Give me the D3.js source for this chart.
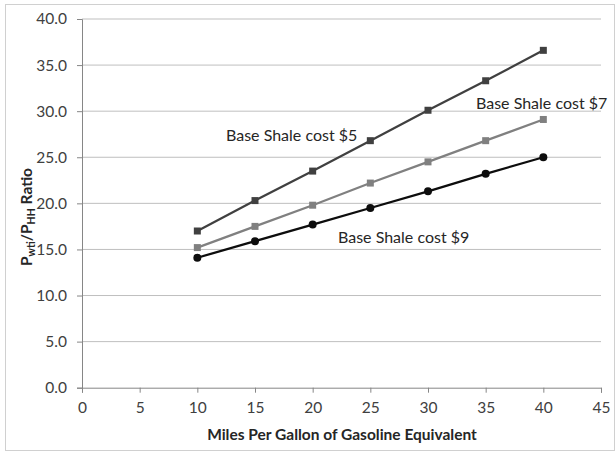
<!DOCTYPE html>
<html>
<head>
<meta charset="utf-8">
<script src="https://cdn.jsdelivr.net/npm/d3@7"></script>
<style>
  html, body { margin: 0; padding: 0; background: #fff; }
  svg { display: block; }
  text { font-family: Lato, "Open Sans", sans-serif; }
</style>
</head>
<body>
<svg id="chart" width="616" height="455"></svg>
<script>
// Fuel economy (mpg gasoline equivalent) on the x axis
const mpg = [10, 15, 20, 25, 30, 35, 40];

// Pwti / PHH price ratio for each base shale cost
const cost5 = [17.0, 20.3, 23.5, 26.8, 30.1, 33.3, 36.6];
const cost7 = [15.2, 17.5, 19.8, 22.2, 24.5, 26.8, 29.1];
const cost9 = [14.1, 15.9, 17.7, 19.5, 21.3, 23.2, 25.0];

const xTicks = [0, 5, 10, 15, 20, 25, 30, 35, 40, 45];
const yTicks = [0, 5, 10, 15, 20, 25, 30, 35, 40];

const seriesNames = ["Base Shale cost $5", "Base Shale cost $7", "Base Shale cost $9"];

const svg = d3.select("#chart");
const plot = { left: 82, right: 601, top: 19, bottom: 387.7 };

// outer chart frame
svg.append("rect")
  .attr("x", 5.5).attr("y", 4.5)
  .attr("width", 609).attr("height", 446)
  .attr("fill", "#fff").attr("stroke", "#d0d0d0").attr("stroke-width", 1);

const x = d3.scaleLinear().domain([0, 45]).range([plot.left, plot.right]);
const y = d3.scaleLinear().domain([0, 40]).range([plot.bottom, plot.top]);

// horizontal gridlines
svg.append("g")
  .selectAll("line")
  .data(yTicks.filter(v => v > 0))
  .join("line")
  .attr("x1", plot.left).attr("x2", plot.right)
  .attr("y1", d => y(d)).attr("y2", d => y(d))
  .attr("stroke", "#bfbfbf").attr("stroke-width", 1);

// y axis
const yAxis = svg.append("g")
  .attr("transform", `translate(${plot.left},0)`)
  .call(d3.axisLeft(y).tickValues(yTicks).tickFormat(d3.format(".1f")).tickSize(5).tickPadding(10));
yAxis.select(".domain").attr("stroke", "#868686");
yAxis.selectAll(".tick line").attr("stroke", "#868686");
yAxis.selectAll(".tick text")
  .attr("fill", "#404040").attr("font-size", 15.5)
  .style("font-family", "Lato, sans-serif");

// x axis
const xAxis = svg.append("g")
  .attr("transform", `translate(0,${plot.bottom})`)
  .call(d3.axisBottom(x).tickValues(xTicks).tickSize(5).tickPadding(9));
xAxis.select(".domain").attr("stroke", "#868686");
xAxis.selectAll(".tick line").attr("stroke", "#868686");
xAxis.selectAll(".tick text")
  .attr("fill", "#404040").attr("font-size", 15.5)
  .style("font-family", "Lato, sans-serif");

// axis titles
svg.append("text")
  .attr("x", 342).attr("y", 440)
  .attr("text-anchor", "middle")
  .attr("font-size", 15.5).attr("font-weight", "bold").attr("fill", "#262626")
  .text("Miles Per Gallon of Gasoline Equivalent");

const yTitle = svg.append("text")
  .attr("transform", "translate(32,217) rotate(-90)")
  .attr("text-anchor", "middle")
  .attr("font-size", 15.5).attr("font-weight", "bold").attr("fill", "#262626");
yTitle.append("tspan").text("P");
yTitle.append("tspan").attr("font-size", 10.5).attr("dy", 3).text("wti");
yTitle.append("tspan").attr("dy", -3).text("/P");
yTitle.append("tspan").attr("font-size", 10.5).attr("dy", 3).text("HH");
yTitle.append("tspan").attr("dy", -3).text(" Ratio");

const line = d3.line().x((d, i) => x(mpg[i])).y(d => y(d));

const series = [
  { values: cost5, color: "#404040", marker: "square" },
  { values: cost7, color: "#808080", marker: "square" },
  { values: cost9, color: "#0d0d0d", marker: "circle" }
];

series.forEach(s => {
  svg.append("path")
    .datum(s.values)
    .attr("d", line)
    .attr("fill", "none")
    .attr("stroke", s.color)
    .attr("stroke-width", 2.25);

  const g = svg.append("g");
  if (s.marker === "square") {
    g.selectAll("rect")
      .data(s.values)
      .join("rect")
      .attr("x", (d, i) => x(mpg[i]) - 3.5)
      .attr("y", d => y(d) - 3.5)
      .attr("width", 7).attr("height", 7)
      .attr("fill", s.color);
  } else {
    g.selectAll("circle")
      .data(s.values)
      .join("circle")
      .attr("cx", (d, i) => x(mpg[i]))
      .attr("cy", d => y(d))
      .attr("r", 4)
      .attr("fill", s.color);
  }
});

// series labels
const labelPos = [
  { x: 226, y: 141 },
  { x: 476, y: 109 },
  { x: 338, y: 243 }
];
seriesNames.forEach((name, i) => {
  svg.append("text")
    .attr("x", labelPos[i].x).attr("y", labelPos[i].y)
    .attr("font-size", 16).attr("fill", "#262626")
    .text(name);
});
</script>
</body>
</html>
